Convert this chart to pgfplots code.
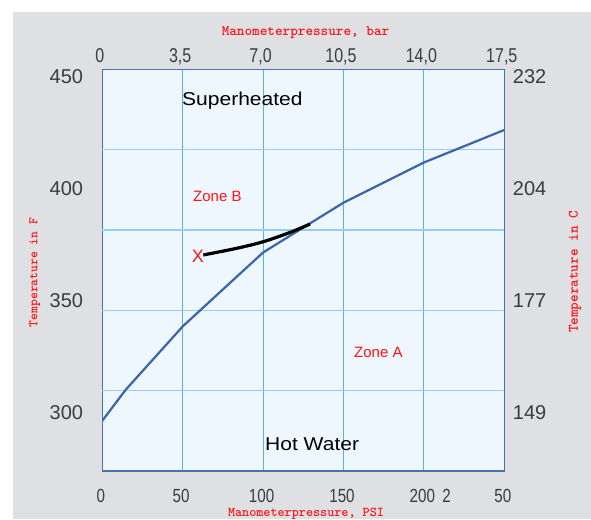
\documentclass[border=0pt]{standalone}
\usepackage{pgfplots}
\pgfplotsset{compat=1.18}
\usepackage{fontspec}
\setmainfont{Liberation Sans}
\newfontfamily\narrowsans[FakeStretch=0.8]{Liberation Sans}
\newfontfamily\widesans[FakeStretch=1.13]{Liberation Sans}
\definecolor{bggray}{RGB}{223,224,228}
\definecolor{plotbg}{RGB}{238,247,254}
\definecolor{framec}{RGB}{74,114,176}
\definecolor{vgrid}{RGB}{92,174,228}
\definecolor{hgrid}{RGB}{150,205,240}
\definecolor{curvec}{RGB}{60,100,170}
\definecolor{tickc}{RGB}{60,60,60}
\definecolor{redc}{RGB}{255,20,20}
\begin{document}
\begin{tikzpicture}
\useasboundingbox (0,0) rectangle (591pt,-519pt);
\fill[white] (0,0) rectangle (591pt,-519pt);
\fill[bggray] (13pt,-12pt) rectangle (591pt,-519pt);
\begin{axis}[
  at={(102.3pt,-471pt)}, anchor=south west,
  scale only axis, width=402pt, height=401.7pt,
  xmin=0, xmax=250, ymin=0, ymax=5,
  axis background/.style={fill=plotbg},
  axis line style={draw=framec, line width=1.5pt},
  major tick length=0pt, tick style={draw=none},
  xtick={0,50,100,150,200,250},
  xticklabels={0,50,100,150,200,50},
  extra x ticks={215}, extra x tick labels={2},
  extra x tick style={grid=none},
  ytick={0.728,2.122,3.519,4.908},
  yticklabels={300,350,400,450},
  extra y ticks={1,2,3,4}, extra y tick labels={},
  extra y tick style={grid=major, major grid style={color=hgrid, line width=1.5pt}},
  xmajorgrids=true, ymajorgrids=false,
  major grid style={color=vgrid, line width=1pt},
  xticklabel style={font=\narrowsans\fontsize{19}{19}\selectfont, text=tickc, inner sep=0pt, anchor=base, yshift=-31pt, xshift=-1.5pt},
  yticklabel style={font=\fontsize{20}{20}\selectfont, text=tickc, inner sep=0pt, anchor=east, xshift=-19pt},
]
\addplot[curvec, line width=2.2pt] coordinates {
  (0,0.626) (14.5,1.01) (50,1.80) (100,2.72) (150,3.34) (200,3.84) (250,4.245)
};
\addplot[black, line width=3.2pt, smooth] coordinates {
  (62.8,2.689) (83.6,2.772) (100.1,2.854) (116.7,2.969) (129.2,3.074)
};
\end{axis}
\begin{axis}[
  at={(102.3pt,-471pt)}, anchor=south west,
  scale only axis, width=402pt, height=401.7pt,
  xmin=0, xmax=17.5, ymin=0, ymax=5,
  axis line style={draw=none},
  major tick length=0pt, tick style={draw=none},
  xticklabel pos=upper, yticklabel pos=upper,
  xtick={0,3.5,7,10.5,14,17.5},
  xticklabels={0,{3,5},{7,0},{10,5},{14,0},{17,5}},
  ytick={0.728,2.122,3.519,4.908},
  yticklabels={149,177,204,232},
  xticklabel style={font=\narrowsans\fontsize{20}{20}\selectfont, text=tickc, inner sep=0pt, anchor=base, yshift=7.1pt, xshift=-2.5pt},
  yticklabel style={font=\fontsize{20}{20}\selectfont, text=tickc, inner sep=0pt, anchor=west, xshift=8.4pt},
]
\end{axis}
% titles
\node[anchor=base, text=redc, font=\ttfamily\bfseries\fontsize{14.5}{14.5}\selectfont, inner sep=0pt] at (305.5pt,-35.5pt) {Manometerpressure, bar};
\node[anchor=base, text=redc, font=\ttfamily\bfseries\fontsize{13.5}{13.5}\selectfont, inner sep=0pt] at (306pt,-516.5pt) {Manometerpressure, PSI};
\node[rotate=90, text=redc, font=\ttfamily\bfseries\fontsize{13}{13}\selectfont, inner sep=0pt] at (34.7pt,-272.5pt) {Temperature in F};
\node[rotate=90, text=redc, font=\ttfamily\bfseries\fontsize{14.5}{14.5}\selectfont, inner sep=0pt] at (575pt,-272pt) {Temperature in C};
% region labels
\node[anchor=base west, inner sep=0pt, font=\widesans\fontsize{18.6}{18.6}\selectfont] at (182pt,-105.7pt) {Superheated};
\node[anchor=base west, inner sep=0pt, font=\widesans\fontsize{18.6}{18.6}\selectfont] at (265pt,-450pt) {Hot Water};
\node[anchor=base west, inner sep=0pt, text=redc, font=\fontsize{15}{15}\selectfont] at (193pt,-201.7pt) {Zone B};
\node[anchor=base west, inner sep=0pt, text=redc, font=\fontsize{15}{15}\selectfont] at (354pt,-357.3pt) {Zone A};
\node[inner sep=0pt, text=redc, font=\fontsize{18}{18}\selectfont] at (198pt,-256.7pt) {X};
\end{tikzpicture}
\end{document}
